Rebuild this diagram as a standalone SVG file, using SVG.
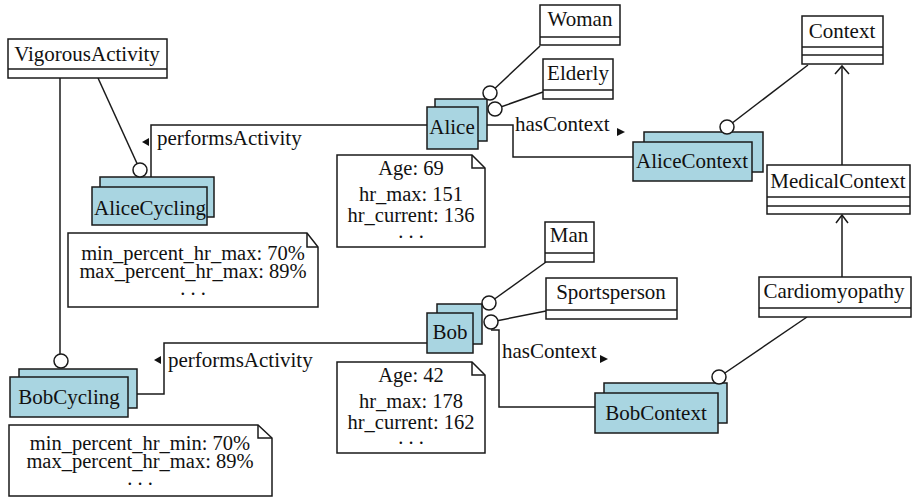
<svg xmlns="http://www.w3.org/2000/svg" width="912" height="498" viewBox="0 0 912 498">
<style>
.box{fill:#fff;stroke:#1a1a1a;stroke-width:1.5}
.obj{fill:#a9d5e1;stroke:#1a1a1a;stroke-width:1.5}
.ln{fill:none;stroke:#1a1a1a;stroke-width:1.5}
.circ{fill:#fff;stroke:#1a1a1a;stroke-width:1.5}
.tri{fill:#111;stroke:none}
.t{font-family:"Liberation Serif",serif;font-size:21px;fill:#111}
.n{font-family:"Liberation Serif",serif;font-size:20.5px;fill:#111;text-anchor:middle}
.c{text-anchor:middle}
</style>
<rect width="912" height="498" fill="#fff"/>

<g id="connectors">
  <line class="ln" x1="98" y1="78" x2="140" y2="170"/>
  <line class="ln" x1="60" y1="78" x2="60" y2="354"/>
  <polyline class="ln" points="427,125 151,125 151,177"/>
  <polygon class="tri" points="142,142 149,138 149,146"/>
  <text class="t" x="157" y="145">performsActivity</text>
  <line class="ln" x1="540" y1="46" x2="490" y2="93"/>
  <line class="ln" x1="543" y1="92" x2="495" y2="109"/>
  <polyline class="ln" points="487,125 513,125 513,157 633,157"/>
  <text class="t" x="515" y="131">hasContext</text>
  <polygon class="tri" points="617,128 625,132 617,136"/>
  <line class="ln" x1="808" y1="65" x2="727" y2="127"/>
  <line class="ln" x1="842" y1="165" x2="842" y2="66"/>
  <polyline class="ln" points="835,74 842,66 849,74"/>
  <line class="ln" x1="842" y1="277" x2="842" y2="215"/>
  <polyline class="ln" points="836,223 842,215 848,223"/>
  <line class="ln" x1="807" y1="317" x2="719" y2="377"/>
  <line class="ln" x1="546" y1="262" x2="489" y2="303"/>
  <line class="ln" x1="546" y1="311" x2="491" y2="322"/>
  <polyline class="ln" points="491,330 499,330 499,407 595,407"/>
  <text class="t" x="502" y="358">hasContext</text>
  <polygon class="tri" points="600,355 608,359 600,363"/>
  <polyline class="ln" points="427,343 164,343 164,394 137,394"/>
  <polygon class="tri" points="154,360 161,356 161,364"/>
  <text class="t" x="168" y="367">performsActivity</text>
</g>

<g id="VigorousActivity">
  <rect class="box" x="8" y="39" width="159" height="39"/>
  <line class="ln" x1="8" y1="69" x2="167" y2="69"/>
  <text class="t c" x="87" y="61">VigorousActivity</text>
</g>

<g id="Woman">
  <rect class="box" x="540" y="5" width="80" height="40"/>
  <line class="ln" x1="540" y1="37" x2="620" y2="37"/>
  <text class="t c" x="580" y="26">Woman</text>
</g>

<g id="Elderly">
  <rect class="box" x="543" y="59" width="70" height="40"/>
  <line class="ln" x1="543" y1="90" x2="613" y2="90"/>
  <text class="t c" x="578" y="80">Elderly</text>
</g>

<g id="Context">
  <rect class="box" x="802" y="16" width="81" height="48"/>
  <line class="ln" x1="802" y1="47" x2="883" y2="47"/>
  <line class="ln" x1="802" y1="55" x2="883" y2="55"/>
  <text class="t c" x="842" y="38">Context</text>
</g>

<g id="MedicalContext">
  <rect class="box" x="767" y="165" width="143" height="49"/>
  <line class="ln" x1="767" y1="197" x2="910" y2="197"/>
  <line class="ln" x1="767" y1="206" x2="910" y2="206"/>
  <text class="t c" x="838" y="188">MedicalContext</text>
</g>

<g id="Cardiomyopathy">
  <rect class="box" x="759" y="277" width="152" height="40"/>
  <line class="ln" x1="759" y1="308" x2="911" y2="308"/>
  <text class="t c" x="834" y="298">Cardiomyopathy</text>
</g>

<g id="Man">
  <rect class="box" x="545" y="222" width="49" height="40"/>
  <line class="ln" x1="545" y1="253" x2="594" y2="253"/>
  <text class="t c" x="569" y="242">Man</text>
</g>

<g id="Sportsperson">
  <rect class="box" x="546" y="278" width="131" height="41"/>
  <line class="ln" x1="546" y1="310" x2="677" y2="310"/>
  <text class="t c" x="611" y="299">Sportsperson</text>
</g>

<g id="Alice">
  <rect class="obj" x="435" y="99" width="52" height="42"/>
  <rect class="obj" x="427" y="107" width="51" height="42"/>
  <text class="t c" x="452" y="134">Alice</text>
</g>

<g id="AliceContext">
  <rect class="obj" x="644" y="132" width="119" height="40"/>
  <rect class="obj" x="633" y="142" width="119" height="39"/>
  <text class="t c" x="692" y="168">AliceContext</text>
</g>

<g id="AliceCycling">
  <rect class="obj" x="100" y="177" width="114" height="40"/>
  <rect class="obj" x="92" y="187" width="115" height="38"/>
  <text class="t c" x="150" y="215">AliceCycling</text>
</g>

<g id="Bob">
  <rect class="obj" x="437" y="304" width="45" height="40"/>
  <rect class="obj" x="427" y="313" width="46" height="40"/>
  <text class="t c" x="450" y="339">Bob</text>
</g>

<g id="BobContext">
  <rect class="obj" x="604" y="383" width="123" height="40"/>
  <rect class="obj" x="595" y="393" width="123" height="40"/>
  <text class="t c" x="656" y="420">BobContext</text>
</g>

<g id="BobCycling">
  <rect class="obj" x="19" y="369" width="118" height="39"/>
  <rect class="obj" x="10" y="377" width="118" height="40"/>
  <text class="t c" x="69" y="404">BobCycling</text>
</g>

<g id="lollipops">
  <circle class="circ" cx="140" cy="170" r="7"/>
  <circle class="circ" cx="61" cy="361" r="7"/>
  <circle class="circ" cx="490" cy="93" r="7"/>
  <circle class="circ" cx="495" cy="109" r="7"/>
  <circle class="circ" cx="727" cy="127" r="7"/>
  <circle class="circ" cx="489" cy="303" r="7"/>
  <circle class="circ" cx="491" cy="322" r="7"/>
  <circle class="circ" cx="719" cy="377" r="7"/>
</g>

<g id="AliceCyclingNote">
  <path class="box" d="M68,233 H307 L318,247 V307 H68 Z"/>
  <path class="ln" d="M307,233 V247 H318"/>
  <text class="n" x="193" y="260">min_percent_hr_max: 70%</text>
  <text class="n" x="193" y="278">max_percent_hr_max: 89%</text>
  <text class="n" x="193" y="295">. . .</text>
</g>

<g id="AliceNote">
  <path class="box" d="M337,155 H472 L485,168 V247 H337 Z"/>
  <path class="ln" d="M472,155 V168 H485"/>
  <text class="n" x="411" y="175">Age: 69</text>
  <text class="n" x="411" y="201">hr_max: 151</text>
  <text class="n" x="411" y="222">hr_current: 136</text>
  <text class="n" x="411" y="238">. . .</text>
</g>

<g id="BobNote">
  <path class="box" d="M337,362 H472 L485,375 V453 H337 Z"/>
  <path class="ln" d="M472,362 V375 H485"/>
  <text class="n" x="411" y="382">Age: 42</text>
  <text class="n" x="411" y="408">hr_max: 178</text>
  <text class="n" x="411" y="429">hr_current: 162</text>
  <text class="n" x="411" y="444">. . .</text>
</g>

<g id="BobCyclingNote">
  <path class="box" d="M9,425 H258 L272,438 V496 H9 Z"/>
  <path class="ln" d="M258,425 V438 H272"/>
  <text class="n" x="140" y="450">min_percent_hr_min: 70%</text>
  <text class="n" x="140" y="468">max_percent_hr_max: 89%</text>
  <text class="n" x="140" y="485">. . .</text>
</g>
</svg>
